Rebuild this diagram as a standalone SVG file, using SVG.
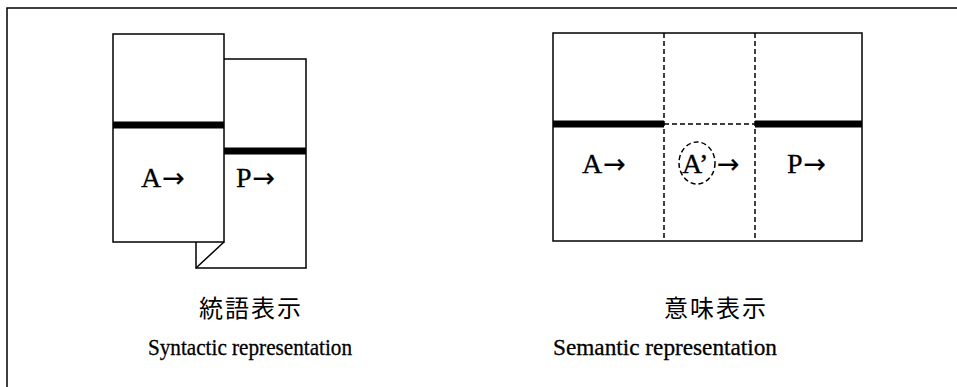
<svg xmlns="http://www.w3.org/2000/svg" width="957" height="387" viewBox="0 0 957 387">
<style>
.ln{fill:none;stroke:#000;stroke-width:1.5}
.dash{fill:none;stroke:#000;stroke-width:1.5;stroke-dasharray:5 3}
.bar{stroke:#000;stroke-width:7}
.lbl{font-family:"Liberation Serif","Times New Roman",serif;font-size:28px;fill:#000;stroke:#000;stroke-width:0.3}
.arr{font-family:"DejaVu Sans",sans-serif;font-size:27px;stroke-width:0.2}
.cjk{font-family:"Noto Sans CJK JP","Noto Sans CJK SC",sans-serif;font-size:24px;fill:#000;text-anchor:middle;letter-spacing:2px}
.cap{font-family:"Liberation Serif","Times New Roman",serif;font-size:23px;fill:#000;stroke:#000;stroke-width:0.3}
</style>
<rect width="957" height="387" fill="#fff"/>
<path class="ln" d="M7,387 V8 H957" stroke-width="2"/>
<g id="syntactic">
  <g id="sheetP">
    <path class="ln" d="M224,59 H306 V268 H196 V242"/>
    <line class="ln" x1="196" y1="268" x2="224" y2="242"/>
    <line class="bar" x1="224" y1="151" x2="306" y2="151"/>
    <text class="lbl" x="236" y="187">P<tspan class="arr" dx="1">→</tspan></text>
  </g>
  <g id="sheetA">
    <rect class="ln" x="113" y="34" width="111" height="208" fill="#fff"/>
    <line class="bar" x1="113" y1="125" x2="224" y2="125"/>
    <text class="lbl" x="141" y="187">A<tspan class="arr" dx="1">→</tspan></text>
  </g>
  <text class="cjk" x="251" y="317">統語表示</text>
  <text class="cap" x="148" y="355" textLength="204" lengthAdjust="spacingAndGlyphs">Syntactic representation</text>
</g>
<g id="semantic">
  <rect class="ln" x="553" y="33" width="309" height="208"/>
  <line class="dash" x1="664" y1="33" x2="664" y2="241"/>
  <line class="dash" x1="755" y1="33" x2="755" y2="241"/>
  <line class="bar" x1="553" y1="124" x2="664" y2="124"/>
  <line class="dash" x1="664" y1="124" x2="755" y2="124"/>
  <line class="bar" x1="755" y1="124" x2="862" y2="124"/>
  <text class="lbl" x="582" y="173">A<tspan class="arr" dx="1">→</tspan></text>
  <ellipse class="dash" cx="697" cy="163" rx="18" ry="21" stroke-dasharray="4 3"/>
  <text class="lbl" x="682" y="173">A’</text>
  <text class="lbl arr" x="717" y="173">→</text>
  <text class="lbl" x="787" y="173">P<tspan class="arr" dx="1">→</tspan></text>
  <text class="cjk" x="716" y="317">意味表示</text>
  <text class="cap" x="553" y="355" textLength="224" lengthAdjust="spacingAndGlyphs">Semantic representation</text>
</g>
</svg>
